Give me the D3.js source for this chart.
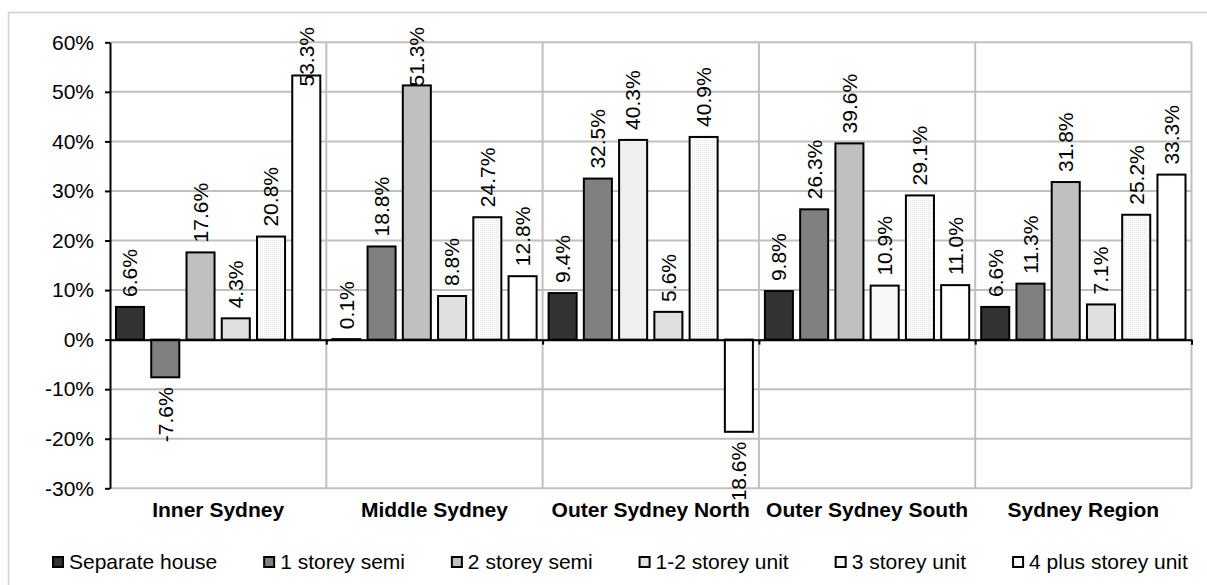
<!DOCTYPE html>
<html>
<head>
<meta charset="utf-8">
<script src="https://cdn.jsdelivr.net/npm/d3@7"></script>
<style>
  html, body { margin: 0; padding: 0; background: #fff; }
  svg { display: block; font-family: "Liberation Sans", Arial, sans-serif; }
</style>
</head>
<body>
<svg id="chart" width="1207" height="585"></svg>
<script>
// Dwelling growth by structure type, Sydney sub-regions (per cent change)
const categories = ["Inner Sydney", "Middle Sydney", "Outer Sydney North", "Outer Sydney South", "Sydney Region"];
const seriesNames = ["Separate house", "1 storey semi", "2 storey semi", "1-2 storey unit", "3 storey unit", "4 plus storey unit"];
const separateHouse    = [6.6, 0.1, 9.4, 9.8, 6.6];
const oneStoreySemi    = [-7.6, 18.8, 32.5, 26.3, 11.3];
const twoStoreySemi    = [17.6, 51.3, 40.3, 39.6, 31.8];
const oneTwoStoreyUnit = [4.3, 8.8, 5.6, 10.9, 7.1];
const threeStoreyUnit  = [20.8, 24.7, 40.9, 29.1, 25.2];
const fourPlusUnit     = [53.3, 12.8, -18.6, 11.0, 33.3];
const yTicks = [-30, -20, -10, 0, 10, 20, 30, 40, 50, 60];

const seriesValues = [separateHouse, oneStoreySemi, twoStoreySemi, oneTwoStoreyUnit, threeStoreyUnit, fourPlusUnit];

// fills per series, plus a few individually formatted points
const seriesFill = ["#333333", "#808080", "#c0c0c0", "#e0e0e0", "url(#dots)", "#ffffff"];
const pointFill = {
  "Outer Sydney North|2 storey semi": "#efefef",
  "Outer Sydney South|1-2 storey unit": "#f8f8f8"
};

const svg = d3.select("#chart");
const font = 21;

// fine dotted texture for the 3 storey unit series
const defs = svg.append("defs");
const pat = defs.append("pattern").attr("id", "dots")
  .attr("patternUnits", "userSpaceOnUse").attr("width", 2).attr("height", 2);
pat.append("rect").attr("width", 2).attr("height", 2).attr("fill", "#ffffff");
pat.append("rect").attr("width", 1).attr("height", 1).attr("fill", "#e2e2e2");

// value labels are cut off just above the category names
defs.append("clipPath").attr("id", "labelClip")
  .append("rect").attr("x", 0).attr("y", 0).attr("width", 1207).attr("height", 499);

// chart area frame
svg.append("rect").attr("x", 8.5).attr("y", 12.5).attr("width", 1210).attr("height", 600)
  .attr("fill", "#fff").attr("stroke", "#d0d0d0").attr("stroke-width", 1.5);

const plot = { left: 110, right: 1191.5, top: 42.3, bottom: 488.3 };

const y = d3.scaleLinear().domain([-30, 60]).range([plot.bottom, plot.top]);
const x0 = d3.scaleBand().domain(categories).range([plot.left, plot.right]);
const x1 = d3.scaleBand().domain(seriesNames).range([5, x0.bandwidth() - 5]).paddingInner(0.148);
const edges = d3.scaleLinear().domain([0, categories.length]).range([plot.left, plot.right]);

// horizontal gridlines
svg.append("g").selectAll("line").data(yTicks).join("line")
  .attr("x1", plot.left).attr("x2", plot.right)
  .attr("y1", d => y(d)).attr("y2", d => y(d))
  .attr("stroke", "#c0c0c0").attr("stroke-width", 2);

// vertical gridlines at category boundaries
svg.append("g").selectAll("line").data(d3.range(1, categories.length + 1)).join("line")
  .attr("x1", d => edges(d)).attr("x2", d => edges(d))
  .attr("y1", plot.top).attr("y2", plot.bottom)
  .attr("stroke", "#c0c0c0").attr("stroke-width", 2);

// bars
const barData = [];
categories.forEach((c, ci) => {
  seriesNames.forEach((s, si) => {
    barData.push({ c, s, v: seriesValues[si][ci], fill: pointFill[c + "|" + s] || seriesFill[si] });
  });
});

svg.append("g").selectAll("rect").data(barData).join("rect")
  .attr("x", d => x0(d.c) + x1(d.s) + 1)
  .attr("width", x1.bandwidth() - 2)
  .attr("y", d => y(Math.max(0, d.v)))
  .attr("height", d => Math.abs(y(d.v) - y(0)))
  .attr("fill", d => d.fill)
  .attr("stroke", "#000").attr("stroke-width", 2);

// x axis along zero, with marks at category boundaries
svg.append("g").attr("transform", `translate(0,${y(0)})`)
  .call(d3.axisBottom(edges).tickValues(d3.range(1, categories.length + 1)).tickSize(5).tickSizeOuter(0).tickFormat(""))
  .call(g => g.select(".domain").attr("stroke", "#000").attr("stroke-width", 2))
  .call(g => g.selectAll(".tick line").attr("stroke", "#000").attr("stroke-width", 2));

// y axis
svg.append("g").attr("transform", `translate(${plot.left},0)`)
  .call(d3.axisLeft(y).tickValues(yTicks).tickSize(5).tickSizeOuter(0).tickPadding(11).tickFormat(d => d + "%"))
  .call(g => g.select(".domain").attr("stroke", "#000").attr("stroke-width", 2))
  .call(g => g.selectAll(".tick line").attr("stroke", "#000").attr("stroke-width", 2))
  .call(g => g.selectAll(".tick text").attr("fill", "#000")
    .style("font-size", font + "px").style("font-family", '"Liberation Sans", Arial, sans-serif'));

// category labels
svg.append("g").selectAll("text").data(categories).join("text")
  .attr("x", d => x0(d) + x0.bandwidth() / 2)
  .attr("y", 510).attr("dy", "0.35em")
  .attr("text-anchor", "middle")
  .style("font-size", font + "px").style("font-weight", "bold")
  .text(d => d);

// value labels, rotated, kept inside the chart area
const labelTopLimit = 27;
const labels = svg.append("g").attr("clip-path", "url(#labelClip)")
  .selectAll("text").data(barData).join("text")
  .style("font-size", font + "px")
  .attr("dy", "0.35em")
  .text(d => d.v.toFixed(1) + "%");

labels.each(function (d) {
  const len = this.getComputedTextLength();
  const cx = x0(d.c) + x1(d.s) + x1.bandwidth() / 2;
  let anchorY, anchor;
  if (d.v >= 0) {
    anchorY = Math.max(y(d.v) - 10, labelTopLimit + len);
    anchor = "start";
  } else {
    anchorY = y(d.v) + 10;
    anchor = "end";
  }
  d3.select(this).attr("text-anchor", anchor)
    .attr("transform", `translate(${cx},${anchorY}) rotate(-90)`);
});

// legend, entries spread evenly across the bottom
const legend = svg.append("g");
const items = legend.selectAll("g").data(seriesNames).join("g");
items.append("rect").attr("width", 10).attr("height", 10).attr("y", -5)
  .attr("fill", (d, i) => seriesFill[i]).attr("stroke", "#000").attr("stroke-width", 2);
items.append("text").attr("x", 16).attr("dy", "0.35em")
  .style("font-size", font + "px").text(d => d);

const widths = [];
items.each(function () { widths.push(this.getBBox().width); });
const legStart = 53, legEnd = 1188;
const totalW = d3.sum(widths);
const gap = (legEnd - legStart - totalW) / (seriesNames.length - 1);
let xPos = legStart;
items.each(function (d, i) {
  d3.select(this).attr("transform", `translate(${xPos},562)`);
  xPos += widths[i] + gap;
});
</script>
</body>
</html>
